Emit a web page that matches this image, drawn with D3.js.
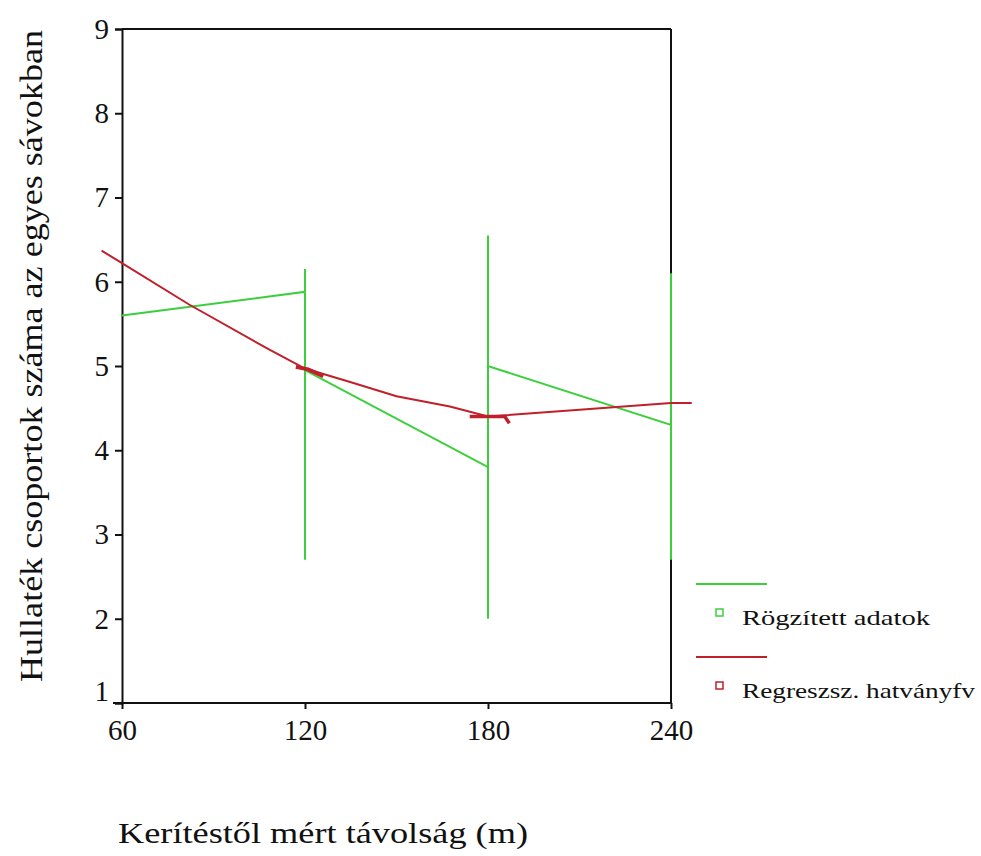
<!DOCTYPE html>
<html><head><meta charset="utf-8">
<script src="https://cdn.jsdelivr.net/npm/d3@7/dist/d3.min.js"></script>
<style>body{margin:0;background:#fff}svg{display:block}</style>
</head><body><svg id="c" width="981" height="856"></svg>
<script>
// Data
const xTicks = [60, 120, 180, 240];
const yTicks = [1, 2, 3, 4, 5, 6, 7, 8, 9];
const xLabel = "Kerítéstől mért távolság (m)";
const yLabel = "Hullaték csoportok száma az egyes sávokban";
const legendLabels = ["Rögzített adatok", "Regreszsz. hatványfv"];
// Recorded data drawn as one polyline (means joined, with vertical ranges at each distance)
const recordedX = [60, 120, 120, 120, 120, 180, 180, 180, 180, 240, 240, 240];
const recordedY = [5.6, 5.88, 6.15, 2.7, 4.95, 3.8, 6.55, 2.0, 5.0, 4.3, 6.1, 2.7];
// Regression (power function) line
const regX = [53.3, 60, 82, 108.5, 120, 134.8, 150, 167.5, 180, 210, 240, 246.8];
const regY = [6.37, 6.22, 5.73, 5.19, 4.97, 4.81, 4.64, 4.52, 4.40, 4.48, 4.56, 4.56];
// small regression marks at 120 and 180
const markA_X = [117, 121, 126];
const markA_Y = [4.99, 4.96, 4.88];
const markB_X = [174, 185.5, 187];
const markB_Y = [4.40, 4.40, 4.32];

const FONT = '"Liberation Serif", "Times New Roman", Times, "DejaVu Serif", serif';
const svg = d3.select("#c");
const L = 122, R = 671, T = 29, B = 703;
const x = d3.scaleLinear().domain([60, 240]).range([L, R]);
const y = d3.scaleLinear().domain([1, 9]).range([B, T]);
const green = "#3ccf3c", red = "#c0202a";

// frame
svg.append("line").attr("x1", L).attr("x2", R).attr("y1", T).attr("y2", T).attr("stroke", "#111").attr("stroke-width", 2);
svg.append("line").attr("x1", R).attr("x2", R).attr("y1", T).attr("y2", B).attr("stroke", "#111").attr("stroke-width", 2);

// axes
const yAxis = d3.axisLeft(y).tickValues(yTicks).tickSize(7).tickPadding(6).tickFormat(d3.format("d"));
const gy = svg.append("g").attr("transform", `translate(${L},0)`).call(yAxis).attr("font-family", null);
gy.select(".domain").attr("stroke", "#111").attr("stroke-width", 2);
gy.selectAll(".tick line").attr("stroke", "#111").attr("stroke-width", 2);
gy.selectAll(".tick text").style("font-family", FONT).style("font-size", "29px").attr("fill", "#111")
  .attr("dy", d => d === 1 ? "-0.1em" : "0.32em");

const xAxis = d3.axisBottom(x).tickValues(xTicks).tickSize(6).tickPadding(10).tickFormat(d3.format("d"));
const gx = svg.append("g").attr("transform", `translate(0,${B})`).call(xAxis).attr("font-family", null);
gx.select(".domain").attr("d", `M${L - 9},0H${R}`).attr("stroke", "#111").attr("stroke-width", 2);
gx.selectAll(".tick line").attr("stroke", "#111").attr("stroke-width", 2);
gx.selectAll(".tick text").style("font-family", FONT).style("font-size", "29px").attr("fill", "#111");

// lines
const line = d3.line().x(d => x(d[0])).y(d => y(d[1]));
svg.append("path").datum(recordedX.map((v, i) => [v, recordedY[i]]))
  .attr("d", line).attr("fill", "none").attr("stroke", green).attr("stroke-width", 2);
svg.append("path").datum(regX.map((v, i) => [v, regY[i]]))
  .attr("d", line).attr("fill", "none").attr("stroke", red).attr("stroke-width", 2);
svg.append("path").datum(markA_X.map((v, i) => [v, markA_Y[i]]))
  .attr("d", line).attr("fill", "none").attr("stroke", red).attr("stroke-width", 4);
svg.append("path").datum(markB_X.map((v, i) => [v, markB_Y[i]]))
  .attr("d", line).attr("fill", "none").attr("stroke", red).attr("stroke-width", 3.5);

// titles
svg.append("text").attr("x", 118).attr("y", 843).style("font-family", FONT).style("font-size", "30px").attr("fill", "#111")
  .attr("textLength", 410).attr("lengthAdjust", "spacingAndGlyphs").text(xLabel);
svg.append("text").attr("transform", "translate(42,682) rotate(-90)").style("font-family", FONT).style("font-size", "31px").attr("fill", "#111")
  .attr("textLength", 652).attr("lengthAdjust", "spacingAndGlyphs").text(yLabel);

// legend
const colors = [green, red];
const lg = svg.append("g");
legendLabels.forEach((lab, i) => {
  const oy = i * 73;
  lg.append("line").attr("x1", 696).attr("x2", 767).attr("y1", 584 + oy).attr("y2", 584 + oy)
    .attr("stroke", colors[i]).attr("stroke-width", 2);
  lg.append("rect").attr("x", 716).attr("y", 609 + oy).attr("width", 7).attr("height", 7)
    .attr("fill", "none").attr("stroke", colors[i]).attr("stroke-width", 1.5);
  lg.append("text").attr("x", 742).attr("y", 625 + oy).style("font-family", FONT).style("font-size", "21px").attr("fill", "#111")
    .attr("textLength", i === 0 ? 188 : 233).attr("lengthAdjust", "spacingAndGlyphs").text(lab);
});
</script></body></html>
